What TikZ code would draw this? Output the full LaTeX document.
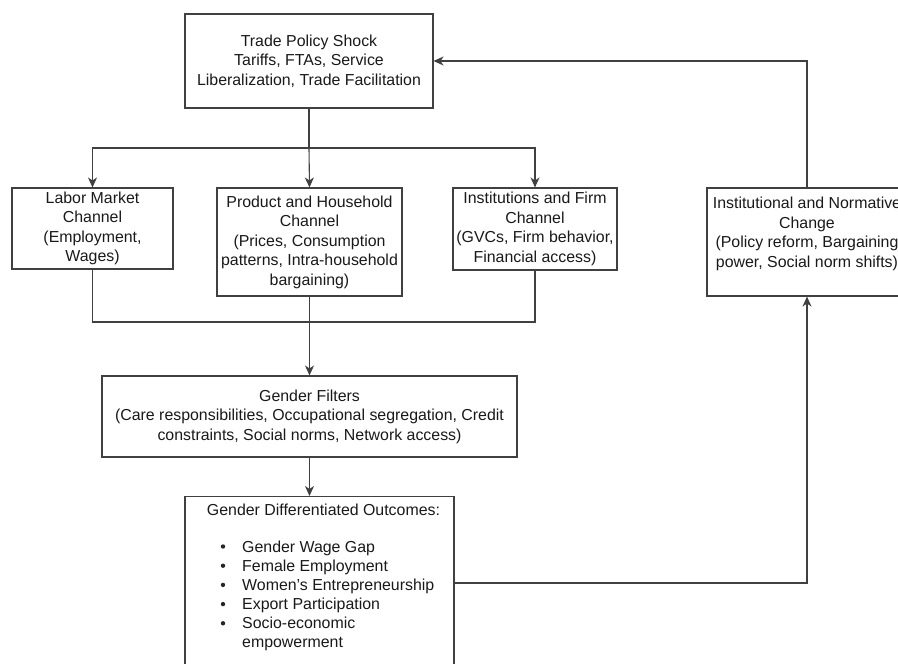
\documentclass[tikz,border=0pt]{standalone}
\usepackage{fontspec}
\setmainfont{Liberation Sans}
\usetikzlibrary{arrows.meta,calc,positioning}
\tikzset{
  box/.style={draw=black!75, line width=1.1pt, align=center, inner sep=0pt,
    text=black!90, font=\fontsize{15.9}{19.5}\selectfont},
  wire/.style={draw=black!75, line width=1.1pt},
  flowArrow/.style={wire, -{Stealth[length=10pt,width=9pt,inset=3pt]}},
  item/.style={anchor=base west, inner sep=0pt, text=black!90,
    font=\fontsize{15.9}{18.5}\selectfont},
  dot/.style={circle, fill=black!85, minimum size=4.4pt, inner sep=0pt}
}
\begin{document}
\begin{tikzpicture}[x=1pt,y=-1pt]
  \useasboundingbox (0,0) rectangle (898,664);
  % Shock and the three channels
  \node[box, minimum width=248pt, minimum height=94pt] (shock) at (309,61)
    {Trade Policy Shock\\ Tariffs, FTAs, Service\\ Liberalization, Trade Facilitation};
  \node[box, minimum width=161pt, minimum height=81pt] (labor) at (92.5,228.5)
    {Labor Market\\ Channel\\ (Employment,\\ Wages)};
  \node[box, minimum width=185pt, minimum height=108pt] (product) at (309.5,242)
    {Product and Household\\ Channel\\ (Prices, Consumption\\ patterns, Intra-household\\ bargaining)};
  \node[box, minimum width=164pt, minimum height=82pt] (inst) at (535,229)
    {Institutions and Firm\\ Channel\\ (GVCs, Firm behavior,\\ Financial access)};
  \node[box, minimum width=200pt, minimum height=108pt] (change) at (807,242)
    {Institutional and Normative\\ Change\\ (Policy reform, Bargaining\\ power, Social norm shifts)\\ \mbox{}};
  % Filters and outcomes
  \node[box, minimum width=415pt, minimum height=81pt] (filters) at (309.5,416.5)
    {Gender Filters\\ (Care responsibilities, Occupational segregation, Credit\\ constraints, Social norms, Network access)};
  \node[box, anchor=north, minimum width=269pt, minimum height=200pt] (outcomes) at (319.5,496) {};
  \node[anchor=base, inner sep=0pt, text=black!90, font=\fontsize{15.9}{19.5}\selectfont]
    (outtitle) at (323.5,515.5) {Gender Differentiated Outcomes:};
  \foreach \i/\txt in {0/Gender Wage Gap,1/Female Employment,2/Women's Entrepreneurship,
      3/Export Participation,4/Socio-economic}{%
    \node[dot] (b\i) at (223,{546.5+19.2*\i}) {};
    \node[item] (t\i) at (242,{552+19.2*\i}) {\txt};
  }
  \node[item] (t5) at ($(t4.base west)+(0,18.5)$) {empowerment};
  % Connectors
  \coordinate (split) at (309,148);
  \coordinate (merge) at (309,322);
  \coordinate (outexit) at (454,583);
  \draw[wire] (shock.south) -- (split);
  \draw[flowArrow] (split) -| (labor.north);
  \draw[flowArrow] (split) -- (product.north);
  \draw[flowArrow] (split) -| (inst.north);
  \draw[wire] (labor.south) |- (merge);
  \draw[wire] (inst.south) |- (merge);
  \draw[flowArrow] (product.south) -- (filters.north);
  \draw[flowArrow] (filters.south) -- (filters.south |- outcomes.north);
  \draw[flowArrow] (outexit) -| (change.south);
  \draw[flowArrow] (change.north) |- (shock.east);
\end{tikzpicture}
\end{document}
